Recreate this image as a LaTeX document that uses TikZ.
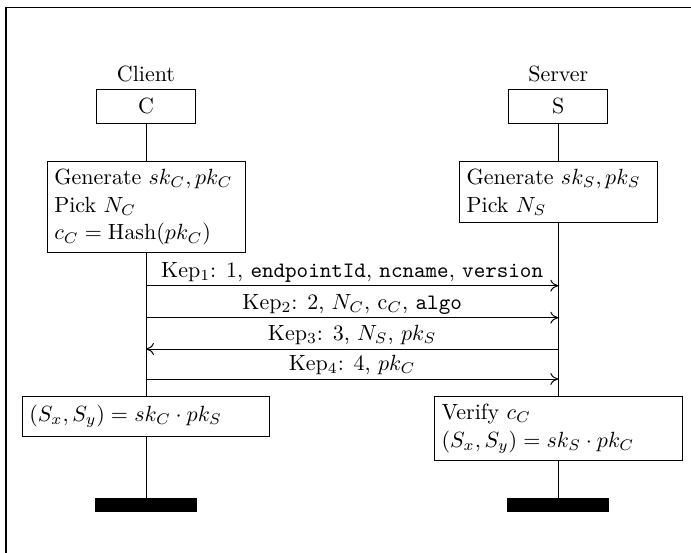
\documentclass[tikz,border=0pt]{standalone}
\usetikzlibrary{arrows.meta}
\begin{document}
\begin{tikzpicture}[x=0.4545pt, y=-0.4545pt,
  frameline/.style={line width=0.6pt},
  objbox/.style={draw, fill=white, minimum width=45pt, minimum height=15.45pt, inner sep=0pt},
  actbox/.style={draw, fill=white, align=left, anchor=north, inner sep=3.33pt},
  endbar/.style={fill=black, minimum width=46.4pt, minimum height=6.36pt, inner sep=0pt},
  life/.style={line width=0.4pt},
  msg/.style={-{To[length=3.6pt,width=5.4pt]}, line width=0.45pt},
  lbl/.style={midway, anchor=base, yshift=3.95pt}]
\useasboundingbox (0,0) rectangle (691,553);
\draw[frameline] (6,560) -- (6,7.5) -- (700,7.5);

\node (clientlbl) at (146,74) {Client};
\node (serverlbl) at (558.3,74) {Server};
\node[objbox] (C) at (146,106) {C};
\node[objbox] (S) at (558.3,106) {S};

\node[actbox, text width=83.3pt] (ca) at (146,161) {\mbox{Generate $sk_C, pk_C$}\\[0.6pt] Pick $N_C$\\[0.6pt] $c_C = \mathrm{Hash}(pk_C)$};
\node[actbox, text width=83.3pt] (sa) at (558.3,161) {\mbox{Generate $sk_S, pk_S$}\\[0.6pt] Pick $N_S$};

\node[actbox, text width=106pt, minimum height=18.2pt] (cb) at (146,396) {$(S_x, S_y) = sk_C \cdot pk_S$};
\node[actbox, text width=106pt] (sb) at (558.3,396) {Verify $c_C$\\[0.6pt] $(S_x, S_y) = sk_S \cdot pk_C$};

\node[endbar] (cbar) at (146,505.3) {};
\node[endbar] (sbar) at (558.3,505.3) {};

\draw[life] (C.south) -- (ca.north);
\draw[life] (ca.south) -- (cb.north);
\draw[life] (cb.south) -- (cbar.north);
\draw[life] (S.south) -- (sa.north);
\draw[life] (sa.south) -- (sb.north);
\draw[life] (sb.south) -- (sbar.north);

\coordinate (c1) at (146,285.7);
\coordinate (s1) at (558.3,285.7);
\coordinate (c2) at (146,317.7);
\coordinate (s2) at (558.3,317.7);
\coordinate (c3) at (146,349);
\coordinate (s3) at (558.3,349);
\coordinate (c4) at (146,379);
\coordinate (s4) at (558.3,379);

\draw[msg] (c1) -- (s1) node[lbl] {Kep$_1$: 1, \texttt{endpointId}, \texttt{ncname}, \texttt{version}};
\draw[msg] (c2) -- (s2) node[lbl] {Kep$_2$: 2, $N_C$, c$_C$, \texttt{algo}};
\draw[msg] (s3) -- (c3) node[lbl] {Kep$_3$: 3, $N_S$, $pk_S$};
\draw[msg] (c4) -- (s4) node[lbl] {Kep$_4$: 4, $pk_C$};
\end{tikzpicture}
\end{document}
